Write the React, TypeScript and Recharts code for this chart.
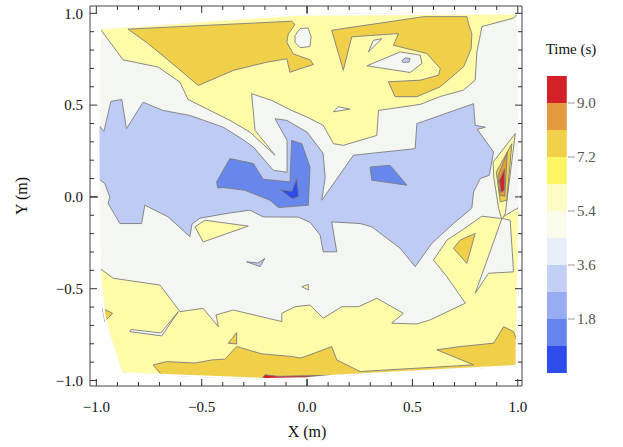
// Filled contour map of arrival time over the (X, Y) plane, with a stepped colour bar.
import {
  ScatterChart,
  Scatter,
  XAxis,
  YAxis,
  ReferenceLine,
  ReferenceArea,
  BarChart,
  Bar,
} from "recharts";

type Pt = [number, number];

// ---- contour regions, [x (m), y (m)] vertices ----
const DOMAIN: Pt[] = [
  [-0.983, 0.917], [-0.048, 0.993], [1.002, 1.0], [1.007, -0.056], [0.993, -0.92],
  [0.124, -0.974], [0, -0.988], [-0.191, -0.992], [-0.88, -0.96], [-0.936, -0.761],
  [-0.96, -0.652], [-0.975, -0.507], [-0.983, -0.382], [-0.99, 0.254],
];

const YELLOW_TOP: Pt[] = [
  [-0.983, 0.917], [-0.048, 0.993], [1.002, 1.0], [0.98, 0.974], [0.83, 0.928],
  [0.806, 0.79], [0.798, 0.636], [0.743, 0.582], [0.632, 0.547], [0.537, 0.504],
  [0.339, 0.471], [0.331, 0.335], [0.172, 0.281], [0.125, 0.29], [0.077, 0.39],
  [0.0, 0.435], [-0.073, 0.471], [-0.168, 0.526], [-0.263, 0.562], [-0.247, 0.363],
  [-0.152, 0.227], [-0.271, 0.353], [-0.366, 0.417], [-0.476, 0.48], [-0.565, 0.531],
  [-0.603, 0.625], [-0.706, 0.707], [-0.873, 0.747],
];

const YELLOW_BOTTOM: Pt[] = [
  [-0.983, -0.389], [-0.92, -0.443], [-0.698, -0.48], [-0.603, -0.625], [-0.493, -0.607],
  [-0.421, -0.707], [-0.432, -0.643], [-0.35, -0.616], [-0.12, -0.679], [-0.12, -0.634],
  [-0.057, -0.598], [0.014, -0.589], [0.077, -0.661], [0.165, -0.598], [0.244, -0.598],
  [0.331, -0.552], [0.457, -0.634], [0.402, -0.688], [0.521, -0.692], [0.584, -0.67],
  [0.751, -0.579], [0.664, -0.435], [0.6, -0.344], [0.664, -0.235], [0.743, -0.175],
  [0.83, -0.105], [0.917, -0.117], [1.007, -0.056], [0.993, -0.92], [0.124, -0.974],
  [0, -0.988], [-0.191, -0.992], [-0.88, -0.96], [-0.936, -0.761], [-0.96, -0.652],
  [-0.975, -0.507],
];

const YELLOW_ISLAND_A: Pt[] = [[-0.532, -0.163], [-0.493, -0.245], [-0.279, -0.159], [-0.485, -0.127]];
const YELLOW_ISLAND_B: Pt[] = [[-0.025, -0.489], [0.006, -0.476], [0.006, -0.507]];
const YELLOW_SPIKE: Pt[] = [
  [0.883, 0.19], [0.988, 0.345], [0.941, -0.089], [0.925, -0.126], [0.909, -0.063], [0.886, 0.109],
];

const WHITE_TONGUE: Pt[] = [[0.798, -0.525], [0.925, -0.117], [0.964, -0.127], [0.98, -0.408], [0.861, -0.416]];
const WHITE_SLIVER: Pt[] = [[-0.841, -0.734], [-0.689, -0.757], [-0.611, -0.625], [-0.694, -0.741], [-0.836, -0.722]];
const WHITE_TRI_A: Pt[] = [[0.291, 0.79], [0.315, 0.853], [0.355, 0.862]];
const WHITE_TRI_B: Pt[] = [[0.125, 0.464], [0.149, 0.491], [0.204, 0.478]];

const GOLD_TL: Pt[] = [
  [-0.85, 0.914], [-0.073, 0.957], [-0.057, 0.939], [-0.089, 0.888], [-0.096, 0.842],
  [-0.065, 0.779], [0.014, 0.747], [0.03, 0.721], [-0.033, 0.698], [-0.081, 0.679],
  [-0.096, 0.752], [-0.191, 0.734], [-0.35, 0.689], [-0.516, 0.607], [-0.675, 0.761],
  [-0.762, 0.842],
];

const GOLD_TR: Pt[] = [
  [0.117, 0.908], [0.331, 0.944], [0.553, 0.982], [0.759, 0.982], [0.766, 0.944],
  [0.782, 0.89], [0.779, 0.808], [0.743, 0.709], [0.632, 0.6], [0.521, 0.546],
  [0.418, 0.546], [0.386, 0.627], [0.537, 0.636], [0.624, 0.663], [0.632, 0.699],
  [0.569, 0.781], [0.41, 0.826], [0.434, 0.89], [0.212, 0.872], [0.172, 0.69],
];

const GOLD_BOTTOM: Pt[] = [
  [-0.73, -0.915], [-0.667, -0.897], [-0.532, -0.905], [-0.453, -0.888], [-0.39, -0.884],
  [-0.334, -0.815], [-0.215, -0.855], [-0.065, -0.87], [-0.033, -0.878], [0.014, -0.86],
  [0.117, -0.815], [0.141, -0.888], [0.252, -0.951], [0.79, -0.915], [0.616, -0.833],
  [0.727, -0.815], [0.885, -0.797], [0.933, -0.707], [0.98, -0.734], [0.995, -0.779],
  [0.993, -0.92], [0.124, -0.974], [0, -0.988], [-0.191, -0.992], [-0.691, -0.97],
];

const GOLD_ISLAND_A: Pt[] = [[-0.97, -0.607], [-0.923, -0.634], [-0.96, -0.679]];
const GOLD_ISLAND_B: Pt[] = [[-0.374, -0.797], [-0.334, -0.739], [-0.334, -0.801]];
const GOLD_ISLAND_C: Pt[] = [[0.695, -0.28], [0.727, -0.235], [0.798, -0.199], [0.758, -0.362]];
const GOLD_SPIKE: Pt[] = [[0.898, 0.136], [0.972, 0.29], [0.948, -0.018], [0.917, -0.027]];

const WHITE_BLOB: Pt[] = [
  [-0.057, 0.879], [-0.033, 0.917], [0.005, 0.92], [0.019, 0.873], [0.014, 0.819],
  [-0.033, 0.813], [-0.057, 0.841],
];
const WHITE_HOLE: Pt[] = [[0.284, 0.714], [0.442, 0.79], [0.537, 0.772], [0.545, 0.727], [0.489, 0.678]];

const ORANGE_SPIKE: Pt[] = [[0.906, 0.113], [0.95, 0.243], [0.938, 0.004], [0.915, 0.009]];
const RED_SPIKE: Pt[] = [[0.913, 0.091], [0.938, 0.153], [0.936, 0.036], [0.92, 0.026]];
const RED_STREAK: Pt[] = [[-0.215, -0.991], [-0.2, -0.969], [-0.138, -0.977], [0.109, -0.972], [-0.081, -0.988]];

const BLUE_MAIN: Pt[] = [
  [-0.99, 0.335], [-0.983, 0.384], [-0.964, 0.357], [-0.931, 0.52], [-0.879, 0.531],
  [-0.857, 0.372], [-0.778, 0.516], [-0.683, 0.471], [-0.556, 0.444], [-0.398, 0.38],
  [-0.31, 0.317], [-0.255, 0.272], [-0.16, 0.145], [-0.095, 0.134], [-0.095, 0.308],
  [-0.152, 0.426], [-0.096, 0.417], [0.0, 0.353], [0.076, 0.238], [0.086, 0.107],
  [0.07, -0.018], [0.22, 0.227], [0.513, 0.263], [0.521, 0.399], [0.79, 0.508],
  [0.798, 0.39], [0.846, 0.38], [0.808, 0.368], [0.885, 0.245], [0.865, 0.118],
  [0.822, 0.1], [0.79, 0.027], [0.782, -0.061], [0.695, -0.145], [0.592, -0.253],
  [0.513, -0.38], [0.442, -0.28], [0.307, -0.163], [0.252, -0.145], [0.117, -0.136],
  [0.141, -0.299], [0.077, -0.299], [0.062, -0.208], [0.014, -0.138], [-0.041, -0.11],
  [-0.208, -0.109], [-0.271, -0.072], [-0.381, -0.09], [-0.508, -0.116], [-0.546, -0.148],
  [-0.556, -0.217], [-0.659, -0.109], [-0.77, -0.045], [-0.785, -0.145], [-0.888, -0.145],
  [-0.944, -0.036], [-0.936, 0.0], [-0.96, 0.073], [-0.99, 0.1],
];
const BLUE_SLIVER: Pt[] = [[-0.287, -0.353], [-0.223, -0.38], [-0.2, -0.335], [-0.233, -0.36]];
const BLUE_SPOT: Pt[] = [[0.45, 0.743], [0.466, 0.757], [0.489, 0.754], [0.485, 0.735], [0.456, 0.732]];

const MID_BLUE_A: Pt[] = [
  [-0.366, 0.209], [-0.255, 0.182], [-0.208, 0.096], [-0.081, 0.082], [-0.073, 0.308],
  [-0.025, 0.29], [0.014, 0.163], [0.006, -0.045], [-0.136, -0.058], [-0.176, -0.018],
  [-0.295, 0.036], [-0.398, 0.051], [-0.424, 0.049], [-0.429, 0.082], [-0.398, 0.145],
];
const MID_BLUE_B: Pt[] = [[0.299, 0.163], [0.394, 0.172], [0.474, 0.064], [0.307, 0.091]];
const DARK_BLUE: Pt[] = [[-0.128, 0.04], [-0.073, 0.031], [-0.049, 0.102], [-0.039, 0.001], [-0.071, -0.01]];

// ---- axes / colour bar ----
const X_TICKS = [-1, -0.9, -0.8, -0.7, -0.6, -0.5, -0.4, -0.3, -0.2, -0.1, 0, 0.1, 0.2, 0.3, 0.4, 0.5, 0.6, 0.7, 0.8, 0.9, 1];
const Y_TICKS = [-1, -0.9, -0.8, -0.7, -0.6, -0.5, -0.4, -0.3, -0.2, -0.1, 0, 0.1, 0.2, 0.3, 0.4, 0.5, 0.6, 0.7, 0.8, 0.9, 1];
const MAJOR_TICKS = [-1, -0.5, 0, 0.5, 1];

const LEVELS = [0, 0.9, 1.8, 2.7, 3.6, 4.5, 5.4, 6.3, 7.2, 8.1, 9.0, 9.9];
const BAND_COLORS = [
  "#2e4ceb", "#6584ee", "#97acf3", "#c3d0f5", "#e8eefa", "#fafbeb",
  "#fdfbc4", "#fef563", "#f2d14a", "#e49a3e", "#d42128",
];
const BAR_TICKS = [1.8, 3.6, 5.4, 7.2, 9.0];

const WHITISH = "#f4f6f2";
const PALE_YELLOW = "#fefba9";
const GOLD = "#f0d048";
const ORANGE = "#e49a3c";
const RED = "#d42129";
const LIGHT_BLUE = "#bdcbf5";
const MID_BLUE = "#6787ec";
const DEEP_BLUE = "#2e4de8";
const EDGE = "#7d7d7d";

const SERIF = "'Liberation Serif', 'Times New Roman', serif";
const PLOT = { left: 90, top: 6, right: 522, bottom: 386 };

const LAYERS: { pts: Pt[]; fill: string; edge?: boolean }[] = [
  { pts: DOMAIN, fill: WHITISH, edge: false },
  { pts: YELLOW_TOP, fill: PALE_YELLOW },
  { pts: YELLOW_BOTTOM, fill: PALE_YELLOW },
  { pts: YELLOW_ISLAND_A, fill: PALE_YELLOW },
  { pts: YELLOW_ISLAND_B, fill: PALE_YELLOW },
  { pts: YELLOW_SPIKE, fill: PALE_YELLOW },
  { pts: WHITE_TONGUE, fill: WHITISH },
  { pts: WHITE_SLIVER, fill: WHITISH },
  { pts: WHITE_TRI_A, fill: WHITISH },
  { pts: WHITE_TRI_B, fill: WHITISH },
  { pts: GOLD_TL, fill: GOLD },
  { pts: GOLD_TR, fill: GOLD },
  { pts: GOLD_BOTTOM, fill: GOLD },
  { pts: GOLD_ISLAND_A, fill: GOLD },
  { pts: GOLD_ISLAND_B, fill: GOLD },
  { pts: GOLD_ISLAND_C, fill: GOLD },
  { pts: GOLD_SPIKE, fill: GOLD },
  { pts: WHITE_BLOB, fill: WHITISH },
  { pts: WHITE_HOLE, fill: WHITISH },
  { pts: ORANGE_SPIKE, fill: ORANGE },
  { pts: RED_SPIKE, fill: RED },
  { pts: RED_STREAK, fill: RED },
  { pts: BLUE_MAIN, fill: LIGHT_BLUE },
  { pts: BLUE_SLIVER, fill: LIGHT_BLUE },
  { pts: BLUE_SPOT, fill: LIGHT_BLUE },
  { pts: MID_BLUE_A, fill: MID_BLUE },
  { pts: MID_BLUE_B, fill: MID_BLUE },
  { pts: DARK_BLUE, fill: DEEP_BLUE },
];

const toRows = (pts: Pt[]) => pts.map(([x, y]) => ({ x, y }));

// the scatter "line" hook hands us the scaled vertices; close them into a filled polygon
const polygon = (fill: string, stroke: string, width: number) => (p: any) => (
  <polygon
    points={(p.points || []).map((q: any) => `${q.x},${q.y}`).join(" ")}
    fill={fill}
    stroke={stroke}
    strokeWidth={width}
    strokeLinejoin="round"
  />
);
const noDot = () => <g />;

const isMajor = (v: number) => MAJOR_TICKS.some((m) => Math.abs(m - v) < 1e-6);
const fmt = (v: number) => (v < -1e-9 ? "\u2212" + Math.abs(v).toFixed(1) : Math.abs(v).toFixed(1));

function XTick(props: any) {
  const { x, payload } = props;
  const major = isMajor(payload.value);
  const len = major ? 7 : 4;
  return (
    <g>
      <line x1={x} y1={PLOT.bottom} x2={x} y2={PLOT.bottom - len} stroke="#333" />
      <line x1={x} y1={PLOT.top} x2={x} y2={PLOT.top + len} stroke="#333" />
      {major && (
        <text x={x} y={PLOT.bottom + 26} textAnchor="middle" fontFamily={SERIF} fontSize={15} fill="#111">
          {fmt(payload.value)}
        </text>
      )}
    </g>
  );
}

function YTick(props: any) {
  const { y, payload } = props;
  const major = isMajor(payload.value);
  const len = major ? 7 : 4;
  return (
    <g>
      <line x1={PLOT.left} y1={y} x2={PLOT.left + len} y2={y} stroke="#333" />
      <line x1={PLOT.right} y1={y} x2={PLOT.right - len} y2={y} stroke="#333" />
      {major && (
        <text x={PLOT.left - 7} y={y} dy="0.35em" textAnchor="end" fontFamily={SERIF} fontSize={15} fill="#111">
          {fmt(payload.value)}
        </text>
      )}
    </g>
  );
}

export default function App() {
  const barRow = [
    {
      name: "time",
      ...Object.fromEntries(BAND_COLORS.map((_, i) => [`b${i}`, LEVELS[i + 1] - LEVELS[i]])),
    },
  ];

  return (
    <div style={{ position: "absolute", left: 0, top: 0, width: 623, height: 447, background: "#fff" }}>
      <ScatterChart width={623} height={447} margin={{ top: 6, right: 101, bottom: 0, left: 0 }}>
        <XAxis
          type="number"
          dataKey="x"
          domain={[-1.03, 1.02]}
          allowDataOverflow
          ticks={X_TICKS}
          interval={0}
          height={61}
          tickSize={0}
          tickMargin={0}
          tickLine={false}
          axisLine={false}
          tick={(p: any) => <XTick {...p} />}
        />
        <YAxis
          type="number"
          dataKey="y"
          domain={[-1.03, 1.04]}
          allowDataOverflow
          ticks={Y_TICKS}
          interval={0}
          width={90}
          tickSize={0}
          tickMargin={0}
          tickLine={false}
          axisLine={false}
          tick={(p: any) => <YTick {...p} />}
        />
        {LAYERS.map((l, i) => (
          <Scatter
            key={i}
            data={toRows(l.pts)}
            line={polygon(l.fill, l.edge === false ? "none" : EDGE, 0.9)}
            lineType="joint"
            shape={noDot}
            legendType="none"
            isAnimationActive={false}
          />
        ))}
        {/* hide contour strokes that run along the edge of the sampled region */}
        <Scatter
          data={toRows(DOMAIN)}
          line={polygon("none", "#ffffff", 2)}
          lineType="joint"
          shape={noDot}
          legendType="none"
          isAnimationActive={false}
        />
        <ReferenceLine x={0} stroke="#444" strokeWidth={1.3} />
        <ReferenceLine y={0} stroke="#444" strokeWidth={1.3} />
        <ReferenceArea x1={-1.03} x2={1.02} y1={-1.03} y2={1.04} fill="none" stroke="#444" strokeWidth={1} />
      </ScatterChart>

      <div style={{ position: "absolute", left: 282, top: 423, width: 50, textAlign: "center", fontFamily: SERIF, fontSize: 16, lineHeight: "18px", color: "#111" }}>
        X (m)
      </div>
      <div style={{ position: "absolute", left: -3, top: 187, width: 50, textAlign: "center", fontFamily: SERIF, fontSize: 16, lineHeight: "18px", color: "#111", transform: "rotate(-90deg)" }}>
        Y (m)
      </div>

      <div style={{ position: "absolute", left: 521, top: 41, width: 100, textAlign: "center", fontFamily: SERIF, fontSize: 15, lineHeight: "17px", color: "#111" }}>
        Time (s)
      </div>
      <div style={{ position: "absolute", left: 520, top: 0 }}>
        <BarChart width={100} height={447} data={barRow} margin={{ top: 76, right: 12, bottom: 74, left: 26 }} barCategoryGap={0}>
          <XAxis type="category" dataKey="name" hide height={0} />
          <YAxis
            type="number"
            orientation="right"
            width={40}
            domain={[0, 9.9]}
            allowDataOverflow
            ticks={BAR_TICKS}
            interval={0}
            axisLine={false}
            tickSize={7}
            tickMargin={2}
            tickLine={{ stroke: "#999" }}
            tick={{ fill: "#555", fontSize: 15, fontFamily: SERIF }}
            tickFormatter={(v: number) => v.toFixed(1)}
          />
          {BAND_COLORS.map((c, i) => (
            <Bar key={i} dataKey={`b${i}`} stackId="bands" fill={c} barSize={22} isAnimationActive={false} />
          ))}
        </BarChart>
      </div>
    </div>
  );
}
